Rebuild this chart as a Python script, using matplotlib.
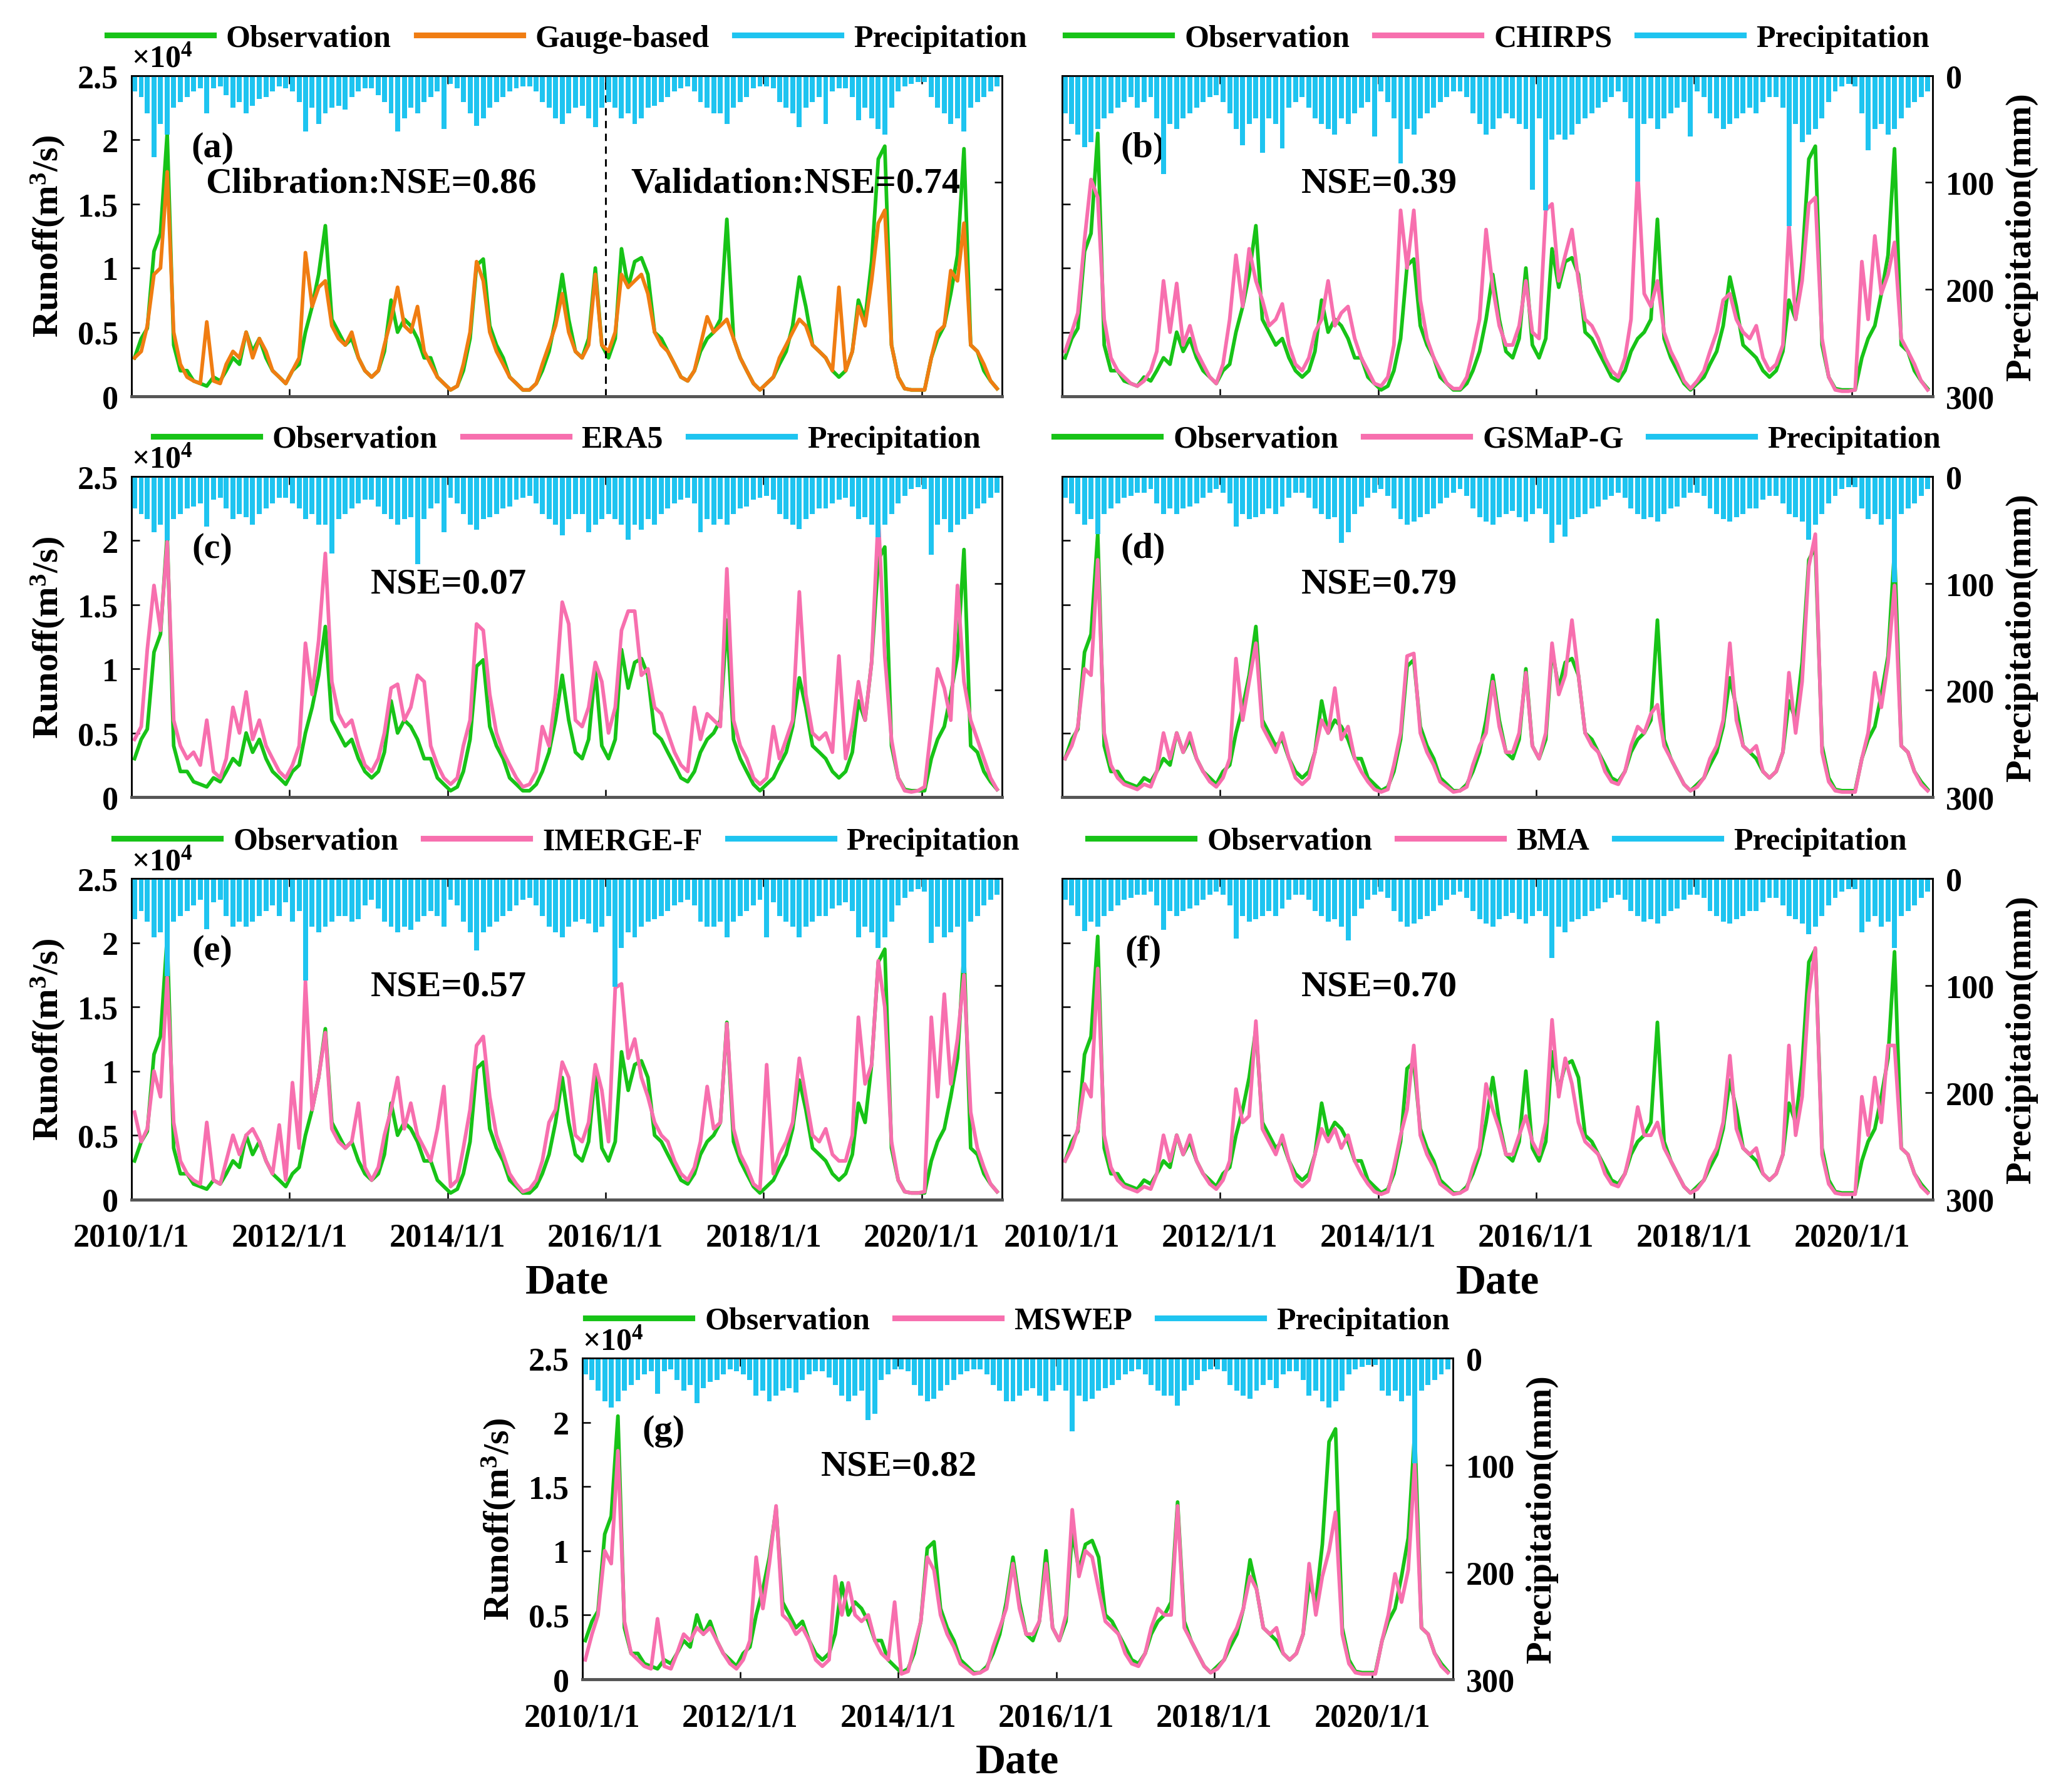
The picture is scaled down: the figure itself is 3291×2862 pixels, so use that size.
import numpy as np
import pandas as pd
import matplotlib
matplotlib.use('Agg')
import matplotlib.pyplot as plt
from matplotlib.lines import Line2D

plt.rcParams['font.family'] = 'Liberation Serif'
plt.rcParams['font.weight'] = 'bold'
plt.rcParams['axes.labelweight'] = 'bold'
plt.rcParams['mathtext.fontset'] = 'custom'
plt.rcParams['mathtext.rm'] = 'Liberation Serif:bold'
plt.rcParams['mathtext.bf'] = 'Liberation Serif:bold'
plt.rcParams['mathtext.default'] = 'bf'

# monthly values Jan 2010 - Dec 2020, runoff in 10^4 m3/s, precipitation in mm
months = pd.date_range('2010-01-01', periods=132, freq='MS') + pd.Timedelta(days=14)

obs = [0.30, 0.45, 0.53, 1.13, 1.27, 2.05, 0.40, 0.20, 0.20, 0.12, 0.10, 0.08,
       0.15, 0.12, 0.20, 0.30, 0.25, 0.50, 0.35, 0.45, 0.30, 0.20, 0.15, 0.10,
       0.20, 0.25, 0.50, 0.70, 0.95, 1.33, 0.60, 0.50, 0.40, 0.45, 0.30, 0.20,
       0.15, 0.20, 0.35, 0.75, 0.50, 0.60, 0.55, 0.45, 0.30, 0.30, 0.15, 0.10,
       0.05, 0.08, 0.20, 0.45, 1.02, 1.07, 0.55, 0.40, 0.30, 0.15, 0.10, 0.05,
       0.05, 0.10, 0.20, 0.35, 0.60, 0.95, 0.60, 0.35, 0.30, 0.45, 1.00, 0.40,
       0.30, 0.45, 1.15, 0.85, 1.05, 1.08, 0.95, 0.50, 0.45, 0.35, 0.25, 0.15,
       0.12, 0.20, 0.35, 0.45, 0.50, 0.60, 1.38, 0.45, 0.30, 0.20, 0.10, 0.05,
       0.10, 0.15, 0.25, 0.35, 0.55, 0.93, 0.70, 0.40, 0.35, 0.30, 0.20, 0.15,
       0.20, 0.35, 0.75, 0.60, 1.05, 1.85, 1.95, 0.40, 0.15, 0.06, 0.05, 0.05,
       0.05, 0.30, 0.45, 0.55, 0.80, 1.10, 1.93, 0.40, 0.35, 0.20, 0.12, 0.06]

gauge = [0.30, 0.35, 0.55, 0.95, 1.00, 1.75, 0.50, 0.25, 0.15, 0.12, 0.10, 0.58,
         0.12, 0.10, 0.25, 0.35, 0.30, 0.50, 0.30, 0.45, 0.35, 0.20, 0.15, 0.10,
         0.20, 0.30, 1.12, 0.70, 0.85, 0.90, 0.55, 0.45, 0.40, 0.50, 0.30, 0.20,
         0.15, 0.20, 0.40, 0.60, 0.85, 0.55, 0.50, 0.70, 0.35, 0.25, 0.15, 0.10,
         0.05, 0.08, 0.25, 0.50, 1.05, 0.90, 0.50, 0.35, 0.25, 0.15, 0.10, 0.05,
         0.05, 0.10, 0.25, 0.40, 0.55, 0.80, 0.50, 0.35, 0.30, 0.40, 0.95, 0.40,
         0.35, 0.50, 0.95, 0.85, 0.90, 0.95, 0.80, 0.50, 0.40, 0.35, 0.25, 0.15,
         0.12, 0.20, 0.40, 0.62, 0.50, 0.55, 0.60, 0.45, 0.30, 0.20, 0.10, 0.05,
         0.10, 0.15, 0.30, 0.40, 0.50, 0.60, 0.55, 0.40, 0.35, 0.30, 0.20, 0.85,
         0.20, 0.35, 0.70, 0.55, 0.90, 1.35, 1.45, 0.40, 0.15, 0.06, 0.05, 0.05,
         0.05, 0.30, 0.50, 0.55, 0.98, 0.90, 1.35, 0.40, 0.35, 0.25, 0.12, 0.06]

chirps = [0.35, 0.50, 0.65, 1.22, 1.69, 1.55, 0.60, 0.30, 0.20, 0.15, 0.10, 0.08,
          0.12, 0.20, 0.35, 0.90, 0.50, 0.88, 0.40, 0.55, 0.35, 0.25, 0.15, 0.10,
          0.25, 0.60, 1.10, 0.70, 1.15, 0.90, 0.75, 0.55, 0.60, 0.72, 0.40, 0.25,
          0.20, 0.30, 0.50, 0.60, 0.90, 0.55, 0.65, 0.70, 0.45, 0.30, 0.20, 0.10,
          0.08, 0.15, 0.40, 1.45, 1.00, 1.45, 0.75, 0.45, 0.30, 0.20, 0.10, 0.06,
          0.06, 0.15, 0.35, 0.60, 1.30, 0.85, 0.55, 0.40, 0.40, 0.55, 0.90, 0.50,
          0.45, 1.45, 1.50, 0.90, 1.10, 1.30, 0.90, 0.60, 0.55, 0.45, 0.30, 0.20,
          0.15, 0.30, 0.60, 1.75, 0.80, 0.70, 0.90, 0.50, 0.35, 0.25, 0.12, 0.06,
          0.12, 0.20, 0.35, 0.50, 0.75, 0.80, 0.60, 0.50, 0.45, 0.55, 0.30, 0.20,
          0.25, 0.40, 1.34, 0.60, 0.90, 1.50, 1.55, 0.45, 0.15, 0.05, 0.04, 0.04,
          0.05, 1.05, 0.60, 1.25, 0.80, 0.95, 1.20, 0.45, 0.35, 0.25, 0.12, 0.05]

era5 = [0.45, 0.55, 1.15, 1.65, 1.30, 1.99, 0.60, 0.40, 0.30, 0.35, 0.25, 0.60,
        0.20, 0.15, 0.30, 0.70, 0.50, 0.82, 0.45, 0.60, 0.40, 0.30, 0.20, 0.15,
        0.25, 0.40, 1.20, 0.80, 1.22, 1.90, 0.90, 0.65, 0.55, 0.60, 0.40, 0.25,
        0.20, 0.30, 0.50, 0.85, 0.88, 0.60, 0.70, 0.95, 0.90, 0.40, 0.25, 0.15,
        0.10, 0.15, 0.40, 0.60, 1.35, 1.30, 0.80, 0.50, 0.35, 0.25, 0.15, 0.08,
        0.10, 0.20, 0.55, 0.40, 0.80, 1.52, 1.35, 0.60, 0.55, 0.70, 1.05, 0.90,
        0.50, 0.70, 1.30, 1.45, 1.45, 0.95, 1.00, 0.70, 0.65, 0.50, 0.35, 0.25,
        0.20, 0.70, 0.45, 0.65, 0.60, 0.55, 1.78, 0.60, 0.40, 0.30, 0.15, 0.10,
        0.15, 0.55, 0.30, 0.45, 0.60, 1.60, 0.80, 0.50, 0.45, 0.50, 0.35, 1.10,
        0.30, 0.55, 0.90, 0.60, 1.05, 2.20, 1.10, 0.45, 0.15, 0.05, 0.04, 0.05,
        0.08, 0.55, 1.00, 0.85, 0.60, 1.65, 0.90, 0.60, 0.45, 0.30, 0.15, 0.06]

gsmap = [0.30, 0.40, 0.55, 1.00, 0.95, 1.85, 0.50, 0.25, 0.15, 0.10, 0.08, 0.06,
         0.10, 0.08, 0.20, 0.50, 0.30, 0.50, 0.35, 0.50, 0.30, 0.20, 0.12, 0.08,
         0.15, 0.30, 1.08, 0.60, 0.90, 1.20, 0.55, 0.45, 0.35, 0.50, 0.30, 0.15,
         0.10, 0.15, 0.35, 0.60, 0.50, 0.85, 0.45, 0.55, 0.30, 0.20, 0.12, 0.06,
         0.04, 0.06, 0.25, 0.50, 1.10, 1.12, 0.50, 0.35, 0.25, 0.12, 0.08, 0.04,
         0.05, 0.08, 0.25, 0.40, 0.50, 0.90, 0.55, 0.35, 0.35, 0.50, 0.97, 0.40,
         0.30, 0.50, 1.20, 0.80, 0.95, 1.38, 0.95, 0.50, 0.40, 0.35, 0.20, 0.12,
         0.10, 0.20, 0.40, 0.55, 0.50, 0.65, 0.72, 0.40, 0.30, 0.20, 0.10, 0.05,
         0.08, 0.15, 0.30, 0.40, 0.60, 1.20, 0.60, 0.40, 0.35, 0.40, 0.20, 0.15,
         0.20, 0.35, 0.97, 0.50, 0.90, 1.80, 2.05, 0.35, 0.12, 0.05, 0.04, 0.04,
         0.04, 0.30, 0.50, 0.97, 0.70, 1.05, 1.65, 0.40, 0.35, 0.20, 0.10, 0.05]

imerg = [0.68, 0.45, 0.55, 1.00, 0.80, 1.73, 0.60, 0.30, 0.20, 0.15, 0.12, 0.60,
         0.15, 0.12, 0.30, 0.50, 0.35, 0.50, 0.55, 0.45, 0.30, 0.20, 0.58, 0.15,
         0.91, 0.40, 1.70, 0.70, 0.95, 1.30, 0.55, 0.45, 0.40, 0.45, 0.75, 0.25,
         0.15, 0.25, 0.50, 0.70, 0.95, 0.55, 0.75, 0.50, 0.40, 0.30, 0.55, 0.88,
         0.10, 0.15, 0.40, 0.70, 1.20, 1.27, 0.80, 0.50, 0.35, 0.20, 0.12, 0.06,
         0.08, 0.15, 0.30, 0.60, 0.70, 1.07, 0.95, 0.50, 0.45, 0.60, 1.05, 0.85,
         0.45, 1.65, 1.68, 1.10, 1.25, 0.95, 0.80, 0.60, 0.50, 0.45, 0.30, 0.20,
         0.15, 0.25, 0.45, 0.88, 0.55, 0.60, 1.37, 0.55, 0.35, 0.25, 0.12, 0.08,
         1.05, 0.20, 0.35, 0.45, 0.60, 1.10, 0.80, 0.50, 0.45, 0.55, 0.35, 0.30,
         0.30, 0.50, 1.42, 0.90, 1.05, 1.86, 1.50, 0.45, 0.15, 0.06, 0.05, 0.05,
         0.06, 1.42, 0.80, 1.60, 0.90, 1.25, 1.75, 0.68, 0.40, 0.25, 0.12, 0.06]

bma = [0.30, 0.40, 0.55, 0.90, 0.80, 1.80, 0.50, 0.25, 0.15, 0.10, 0.08, 0.06,
       0.10, 0.08, 0.20, 0.50, 0.30, 0.50, 0.35, 0.50, 0.30, 0.20, 0.12, 0.08,
       0.15, 0.30, 0.86, 0.60, 0.65, 1.39, 0.55, 0.45, 0.35, 0.50, 0.30, 0.15,
       0.10, 0.15, 0.35, 0.55, 0.45, 0.55, 0.40, 0.50, 0.30, 0.20, 0.12, 0.06,
       0.04, 0.06, 0.25, 0.50, 0.70, 1.20, 0.50, 0.35, 0.25, 0.12, 0.08, 0.04,
       0.05, 0.08, 0.25, 0.40, 0.90, 0.70, 0.55, 0.35, 0.35, 0.50, 0.65, 0.45,
       0.35, 0.60, 1.40, 0.80, 1.10, 0.90, 0.60, 0.45, 0.40, 0.35, 0.20, 0.12,
       0.10, 0.20, 0.40, 0.72, 0.50, 0.50, 0.60, 0.40, 0.30, 0.20, 0.10, 0.05,
       0.08, 0.15, 0.30, 0.40, 0.60, 1.12, 0.55, 0.40, 0.35, 0.40, 0.20, 0.15,
       0.20, 0.35, 1.20, 0.50, 0.80, 1.60, 1.96, 0.35, 0.12, 0.05, 0.04, 0.04,
       0.04, 0.80, 0.50, 0.95, 0.60, 1.20, 1.20, 0.40, 0.35, 0.20, 0.10, 0.05]

mswep = [0.15, 0.35, 0.50, 1.00, 0.90, 1.78, 0.45, 0.20, 0.15, 0.10, 0.08, 0.47,
         0.10, 0.08, 0.20, 0.35, 0.30, 0.40, 0.35, 0.40, 0.30, 0.20, 0.12, 0.08,
         0.15, 0.30, 0.95, 0.55, 0.90, 1.35, 0.50, 0.45, 0.35, 0.40, 0.30, 0.15,
         0.10, 0.15, 0.80, 0.50, 0.75, 0.50, 0.45, 0.50, 0.30, 0.20, 0.15, 0.60,
         0.04, 0.06, 0.25, 0.45, 0.95, 0.85, 0.50, 0.35, 0.25, 0.12, 0.08, 0.04,
         0.05, 0.08, 0.25, 0.40, 0.55, 0.90, 0.55, 0.35, 0.35, 0.45, 0.90, 0.40,
         0.30, 0.50, 1.32, 0.80, 1.00, 0.95, 0.70, 0.45, 0.40, 0.35, 0.20, 0.12,
         0.10, 0.20, 0.40, 0.55, 0.50, 0.50, 1.35, 0.40, 0.30, 0.20, 0.10, 0.05,
         0.08, 0.15, 0.30, 0.40, 0.55, 0.80, 0.70, 0.40, 0.35, 0.40, 0.20, 0.15,
         0.20, 0.35, 0.90, 0.50, 0.80, 1.00, 1.30, 0.35, 0.12, 0.05, 0.04, 0.04,
         0.04, 0.30, 0.50, 0.82, 0.60, 0.85, 1.68, 0.40, 0.35, 0.20, 0.10, 0.05]

p_gauge = [15, 20, 35, 76, 45, 55, 30, 25, 20, 15, 12, 35,
           12, 10, 18, 30, 25, 35, 28, 22, 20, 15, 10, 12,
           15, 25, 52, 30, 45, 35, 30, 28, 32, 20, 15, 12,
           12, 18, 25, 35, 52, 40, 30, 35, 25, 20, 15, 50,
           8, 12, 25, 35, 47, 40, 30, 25, 20, 15, 12, 10,
           10, 15, 25, 30, 40, 45, 35, 30, 28, 40, 48, 30,
           25, 30, 40, 35, 45, 40, 30, 28, 25, 20, 15, 12,
           10, 15, 25, 30, 35, 35, 45, 30, 25, 20, 12, 10,
           10, 12, 25, 30, 35, 48, 30, 25, 20, 45, 15, 12,
           12, 20, 42, 30, 40, 50, 55, 30, 15, 10, 8, 6,
           6, 20, 30, 35, 45, 40, 52, 30, 25, 20, 15, 10]

p_chirps = [35, 45, 55, 67, 62, 50, 40, 35, 30, 25, 20, 30,
            25, 20, 40, 92, 45, 50, 40, 35, 30, 25, 20, 18,
            25, 35, 50, 65, 45, 40, 72, 40, 45, 68, 30, 25,
            20, 30, 40, 45, 50, 55, 40, 45, 35, 30, 25, 57,
            15, 25, 40, 82, 50, 55, 40, 35, 30, 25, 20, 15,
            15, 20, 35, 45, 55, 50, 40, 35, 40, 45, 50, 107,
            40, 126, 60, 55, 60, 55, 45, 40, 35, 30, 25, 20,
            15, 25, 40, 99, 45, 40, 50, 40, 35, 30, 25, 57,
            15, 20, 35, 40, 50, 45, 40, 35, 30, 35, 25, 20,
            20, 30, 141, 45, 62, 55, 50, 40, 25, 15, 10, 8,
            10, 35, 70, 50, 45, 55, 50, 40, 30, 25, 20, 15]

p_era5 = [30, 35, 40, 52, 45, 60, 40, 35, 30, 28, 25, 47,
          22, 20, 30, 40, 35, 38, 45, 35, 30, 25, 20, 20,
          25, 30, 40, 35, 45, 45, 72, 40, 35, 30, 25, 22,
          22, 28, 35, 40, 45, 40, 38, 82, 40, 30, 25, 52,
          20, 25, 35, 45, 50, 40, 38, 35, 30, 28, 22, 20,
          18, 25, 35, 40, 45, 55, 40, 35, 35, 52, 45, 40,
          35, 40, 45, 59, 45, 50, 40, 45, 35, 30, 25, 22,
          20, 25, 52, 40, 45, 40, 45, 35, 30, 28, 22, 20,
          18, 22, 35, 40, 45, 49, 40, 35, 30, 30, 25, 22,
          20, 28, 40, 38, 45, 57, 45, 35, 25, 18, 12, 10,
          12, 73, 45, 40, 52, 45, 40, 35, 30, 25, 20, 15]

p_gsmap = [20, 25, 35, 45, 40, 54, 35, 30, 25, 20, 18, 15,
           15, 12, 25, 35, 30, 35, 30, 28, 25, 20, 15, 12,
           15, 25, 47, 35, 40, 38, 35, 30, 35, 28, 20, 15,
           15, 20, 30, 35, 40, 38, 62, 52, 35, 28, 20, 15,
           12, 18, 30, 40, 45, 42, 38, 35, 30, 25, 20, 15,
           12, 18, 30, 38, 42, 45, 38, 35, 32, 38, 42, 35,
           30, 35, 62, 45, 56, 40, 38, 35, 30, 28, 22, 18,
           15, 20, 30, 35, 40, 38, 42, 35, 30, 28, 20, 15,
           15, 18, 30, 35, 40, 42, 38, 35, 30, 30, 22, 18,
           18, 25, 35, 38, 42, 59, 45, 35, 25, 18, 12, 10,
           10, 30, 40, 35, 45, 40, 99, 35, 30, 25, 18, 12]

p_imerg = [38, 30, 40, 55, 50, 91, 40, 35, 30, 25, 20, 47,
           22, 20, 35, 45, 40, 45, 40, 35, 30, 25, 35, 22,
           40, 30, 95, 45, 50, 45, 40, 35, 35, 40, 38, 25,
           20, 28, 40, 45, 50, 45, 48, 40, 35, 30, 35, 45,
           20, 25, 40, 50, 67, 50, 45, 40, 35, 30, 25, 20,
           18, 25, 35, 45, 50, 55, 45, 40, 38, 42, 50, 45,
           35, 101, 65, 50, 55, 45, 40, 38, 35, 30, 25, 22,
           20, 25, 40, 45, 45, 40, 55, 40, 35, 30, 25, 20,
           55, 22, 35, 40, 45, 55, 45, 40, 35, 35, 28, 25,
           22, 30, 55, 45, 50, 65, 55, 40, 25, 18, 12, 10,
           12, 60, 45, 55, 50, 45, 88, 40, 35, 25, 20, 15]

p_bma = [20, 25, 35, 49, 40, 45, 35, 30, 25, 20, 18, 15,
         15, 12, 25, 48, 30, 35, 30, 28, 25, 20, 15, 12,
         15, 25, 56, 35, 40, 38, 35, 30, 35, 28, 20, 15,
         15, 20, 30, 35, 40, 38, 45, 58, 35, 28, 20, 15,
         12, 18, 30, 40, 45, 42, 38, 35, 30, 25, 20, 15,
         12, 18, 30, 38, 42, 45, 38, 35, 32, 38, 42, 35,
         30, 35, 74, 45, 50, 40, 38, 35, 30, 28, 22, 18,
         15, 20, 30, 35, 40, 38, 42, 35, 30, 28, 20, 15,
         15, 18, 30, 35, 40, 42, 38, 35, 30, 30, 22, 18,
         18, 25, 35, 38, 42, 52, 45, 35, 25, 18, 12, 10,
         10, 50, 40, 35, 45, 40, 65, 35, 30, 25, 18, 12]

p_mswep = [15, 20, 30, 40, 46, 40, 30, 25, 20, 15, 12, 33,
           12, 10, 20, 30, 25, 42, 28, 22, 20, 15, 10, 12,
           15, 20, 35, 30, 40, 35, 30, 28, 32, 20, 15, 12,
           12, 18, 25, 35, 40, 35, 30, 58, 52, 20, 15, 10,
           10, 12, 25, 35, 40, 38, 30, 25, 20, 15, 12, 10,
           10, 15, 25, 30, 40, 40, 35, 30, 28, 35, 40, 30,
           25, 30, 68, 35, 40, 38, 30, 28, 25, 20, 15, 12,
           10, 15, 25, 30, 35, 35, 44, 30, 25, 20, 12, 10,
           10, 12, 25, 30, 35, 38, 30, 25, 20, 28, 15, 12,
           12, 20, 35, 30, 40, 46, 40, 30, 15, 10, 8, 6,
           6, 30, 35, 30, 40, 35, 98, 30, 25, 20, 15, 10]

GREEN = '#17c317'
ORANGE = '#f07d12'
PINK = '#f76fae'
CYAN = '#1ec4f0'

# name, simulated runoff, precipitation, sim colour, letter, [left, bottom], role
panels = [
    ('Gauge-based', gauge, p_gauge, ORANGE, '(a)', [0.0638, 0.7786], 'left'),
    ('CHIRPS', chirps, p_chirps, PINK, '(b)', [0.5153, 0.7786], 'right'),
    ('ERA5', era5, p_era5, PINK, '(c)', [0.0638, 0.5550], 'left'),
    ('GSMaP-G', gsmap, p_gsmap, PINK, '(d)', [0.5153, 0.5550], 'right'),
    ('IMERGE-F', imerg, p_imerg, PINK, '(e)', [0.0638, 0.3306], 'left'),
    ('BMA', bma, p_bma, PINK, '(f)', [0.5153, 0.3306], 'right'),
    ('MSWEP', mswep, p_mswep, PINK, '(g)', [0.2825, 0.0630], 'both'),
]
nse = ['', 'NSE=0.39', 'NSE=0.07', 'NSE=0.79', 'NSE=0.57', 'NSE=0.70', 'NSE=0.82']
bottom_row = ['IMERGE-F', 'BMA', 'MSWEP']

xticks = [pd.Timestamp('%d-01-01' % y) for y in range(2010, 2021, 2)]
xticklabels = ['%d/1/1' % y for y in range(2010, 2021, 2)]

fig = plt.figure(figsize=(10.97, 9.543), dpi=300)

for i, (name, sim, prec, col, letter, pos, role) in enumerate(panels):
    ax = fig.add_axes([pos[0], pos[1], 0.4225, 0.1789])
    ax.plot(months, obs, color=GREEN, lw=1.4)
    ax.plot(months, sim, color=col, lw=1.4)
    ax.set_ylim(0, 2.5)
    ax.set_xlim(pd.Timestamp('2010-01-01'), pd.Timestamp('2021-01-08'))
    ax.set_yticks([0, 0.5, 1, 1.5, 2, 2.5])
    ax.set_yticklabels(['0', '0.5', '1', '1.5', '2', '2.5'])
    ax.set_xticks(xticks)
    ax.set_xticklabels(xticklabels)

    ax2 = ax.twinx()
    ax2.bar(months, prec, width=23, color=CYAN, linewidth=0)
    ax2.set_ylim(300, 0)
    ax2.set_yticks([0, 100, 200, 300])

    show_left = role in ('left', 'both')
    show_right = role in ('right', 'both')
    ax.tick_params(axis='y', direction='in', length=3, width=0.6,
                   labelsize=12.5, pad=5, labelleft=show_left)
    ax.tick_params(axis='x', direction='in', length=3, width=0.6, top=True,
                   labelsize=12.5, pad=9, labelbottom=name in bottom_row)
    ax2.tick_params(axis='y', direction='in', length=3, width=0.6,
                    labelsize=12.5, pad=5, labelright=show_right)
    for a in (ax, ax2):
        for s in ('left', 'right', 'top'):
            a.spines[s].set_linewidth(0.6)
        a.spines['bottom'].set_linewidth(1.1)
        a.spines['bottom'].set_color('#555555')

    if show_left:
        ax.set_ylabel('Runoff(m$^{3}$/s)', fontsize=14, labelpad=4)
        ax.text(0.0, 1.008, '×10$^{4}$', transform=ax.transAxes,
                ha='left', va='bottom', fontsize=12)
    if show_right:
        ax2.set_ylabel('Precipitation(mm)', fontsize=14, labelpad=4)
    if name in bottom_row:
        ax.set_xlabel('Date', fontsize=16, labelpad=4)

    ax.text(0.093, 0.775, letter, transform=ax.transAxes, ha='center',
            va='center', fontsize=14)
    if i == 0:
        ax.axvline(pd.Timestamp('2016-01-01'), color='black', lw=0.7,
                   ls=(0, (4, 3)))
        ax.text(0.275, 0.664, 'Clibration:NSE=0.86', transform=ax.transAxes,
                ha='center', va='center', fontsize=14)
        ax.text(0.763, 0.664, 'Validation:NSE=0.74', transform=ax.transAxes,
                ha='center', va='center', fontsize=14)
    else:
        ax.text(0.364, 0.664, nse[i], transform=ax.transAxes, ha='center',
                va='center', fontsize=14)

    handles = [Line2D([], [], color=GREEN, lw=2.2),
               Line2D([], [], color=col, lw=2.2),
               Line2D([], [], color=CYAN, lw=2.2)]
    ax.legend(handles, ['Observation', name, 'Precipitation'], loc='center',
              bbox_to_anchor=(0.5, 1.115), ncol=3, frameon=False, fontsize=12,
              handlelength=3.4, handletextpad=0.4, columnspacing=0.8,
              borderaxespad=0)

fig.savefig('out.png', dpi=300)
